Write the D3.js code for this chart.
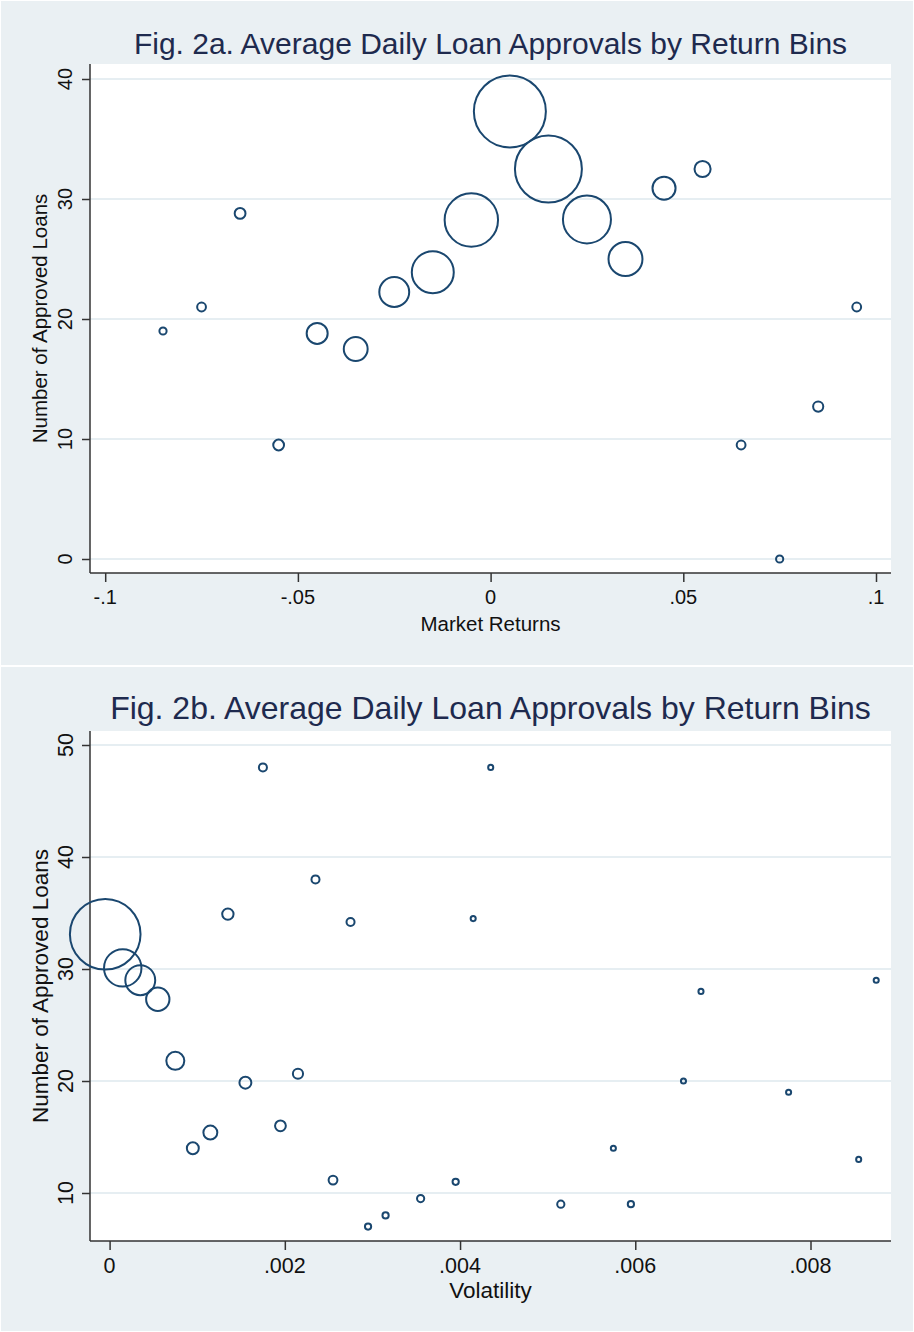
<!DOCTYPE html>
<html lang="en">
<head>
    <meta charset="UTF-8">
    <title>Average Daily Loan Approvals by Return Bins</title>
    <script src="https://d3js.org/d3.v7.min.js"></script>
    <style>
        body { margin: 0; background: #ffffff; }
        svg { display: block; font-family: "Liberation Sans", Arial, Helvetica, sans-serif; }
        .tick-label { fill: #111; }
        .axis-title { fill: #111; }
        .chart-title { fill: #1e2a4e; }
    </style>
</head>
<body>
<div id="chart"></div>
<script>
    // Fig. 2a: market return bins, avg approved loans, number of days in bin (bubble weight)
    const returnBins = [-0.085, -0.075, -0.065, -0.055, -0.045, -0.035, -0.025, -0.015, -0.005,
                        0.005, 0.015, 0.025, 0.035, 0.045, 0.055, 0.065, 0.075, 0.085, 0.095];
    const returnLoans = [19.0, 21.0, 28.8, 9.5, 18.8, 17.5, 22.25, 23.9, 28.25,
                         37.3, 32.5, 28.3, 25.0, 30.9, 32.5, 9.5, 0.0, 12.7, 21.0];
    const returnDays = [4, 6, 9, 9, 34, 44, 69, 136, 220,
                        400, 346, 178, 89, 41, 20, 6, 4, 8, 6];
    const returnTicksX = [-0.1, -0.05, 0, 0.05, 0.1];
    const returnTicksY = [0, 10, 20, 30, 40];

    // Fig. 2b: volatility bins
    const volBins = [-0.00005, 0.00015, 0.00035, 0.00055, 0.00075, 0.00095, 0.00115, 0.00135, 0.00155,
                     0.00175, 0.00195, 0.00215, 0.00235, 0.00255, 0.00275, 0.00295, 0.00315, 0.00355,
                     0.00395, 0.00415, 0.00435, 0.00515, 0.00575, 0.00595, 0.00655, 0.00675, 0.00775,
                     0.00855, 0.00875];
    const volLoans = [33.1, 30.1, 29.0, 27.3, 21.8, 14.0, 15.4, 34.9, 19.85,
                      48.0, 16.0, 20.65, 38.0, 11.15, 34.2, 7.0, 8.0, 9.5,
                      11.0, 34.5, 48.0, 9.0, 14.0, 9.0, 20.0, 28.0, 19.0,
                      13.0, 29.0];
    const volDays = [385, 108, 69, 42, 25, 11, 15, 10, 11,
                     5, 9, 8, 5, 6, 5, 3, 3, 4,
                     3, 2, 2, 4, 2, 3, 2, 2, 2,
                     2, 2];
    const volTicksX = [0, 0.002, 0.004, 0.006, 0.008];
    const volTicksY = [10, 20, 30, 40, 50];

    const W = 914, H = 1332;
    const bg = "#eaf0f3", navy = "#1a476f";

    const svg = d3.select("#chart").append("svg")
        .attr("width", W).attr("height", H);
    svg.append("rect").attr("width", W).attr("height", H).attr("fill", "#fff");

    // format like Stata: ".05", "-.1", "0"
    function stataFmt(v) {
        if (v === 0) return "0";
        let s = String(+v.toFixed(6));
        return s.replace(/^(-?)0\./, "$1.");
    }

    function drawPanel(cfg) {
        const g = svg.append("g");
        g.append("rect")
            .attr("x", 1).attr("y", cfg.top)
            .attr("width", W - 2).attr("height", cfg.bottom - cfg.top)
            .attr("fill", bg);

        const p = cfg.plot;
        g.append("rect")
            .attr("x", p.left).attr("y", p.top)
            .attr("width", p.right - p.left).attr("height", p.bottom - p.top)
            .attr("fill", "#fff");

        const x = d3.scaleLinear().domain(cfg.xDom).range(cfg.xRange);
        const y = d3.scaleLinear().domain(cfg.yDom).range(cfg.yRange);
        const r = d3.scaleSqrt().domain([0, 1]).range([0, 1.8]);

        // gridlines
        g.selectAll(".grid").data(cfg.yTicks).join("line")
            .attr("x1", p.left).attr("x2", p.right)
            .attr("y1", d => y(d)).attr("y2", d => y(d))
            .attr("stroke", "#e6eef2").attr("stroke-width", 2);

        // y axis
        const yAxis = g.append("g")
            .attr("transform", `translate(${p.left},0)`)
            .call(d3.axisLeft(y).tickValues(cfg.yTicks).tickSize(8).tickFormat(""));
        yAxis.select(".domain").attr("d", `M0,${p.top}V${p.bottom}`).attr("stroke", "#333").attr("stroke-width", 1.5);
        yAxis.selectAll(".tick line").attr("stroke", "#333").attr("stroke-width", 1.5);

        g.selectAll(".ytl").data(cfg.yTicks).join("text")
            .attr("class", "tick-label")
            .attr("transform", d => `translate(${cfg.yLabelX},${y(d)}) rotate(-90)`)
            .attr("text-anchor", "middle")
            .style("font-size", cfg.tickSize + "px")
            .text(stataFmt);

        // x axis
        const xAxis = g.append("g")
            .attr("transform", `translate(0,${p.bottom})`)
            .call(d3.axisBottom(x).tickValues(cfg.xTicks).tickSize(9).tickFormat(""));
        xAxis.select(".domain").attr("d", `M${p.left},0H${p.right}`).attr("stroke", "#333").attr("stroke-width", 1.5);
        xAxis.selectAll(".tick line").attr("stroke", "#333").attr("stroke-width", 1.5);

        g.selectAll(".xtl").data(cfg.xTicks).join("text")
            .attr("class", "tick-label")
            .attr("x", d => x(d)).attr("y", cfg.xLabelY)
            .attr("text-anchor", "middle")
            .style("font-size", cfg.tickSize + "px")
            .text(stataFmt);

        // axis titles
        g.append("text")
            .attr("class", "axis-title")
            .attr("x", (p.left + p.right) / 2).attr("y", cfg.xTitleY)
            .attr("text-anchor", "middle")
            .style("font-size", cfg.axisTitleSize + "px")
            .text(cfg.xTitle);

        g.append("text")
            .attr("class", "axis-title")
            .attr("transform", `translate(${cfg.yTitleX},${(p.top + p.bottom) / 2}) rotate(-90)`)
            .attr("text-anchor", "middle")
            .style("font-size", cfg.axisTitleSize + "px")
            .text(cfg.yTitle);

        // chart title
        g.append("text")
            .attr("class", "chart-title")
            .attr("x", (p.left + p.right) / 2).attr("y", cfg.titleY)
            .attr("text-anchor", "middle")
            .style("font-size", cfg.titleSize + "px")
            .text(cfg.title);

        // bubbles
        const pts = cfg.xs.map((v, i) => ({ x: v, y: cfg.ys[i], w: cfg.ws[i] }));
        g.selectAll(".bubble").data(pts).join("circle")
            .attr("class", "bubble")
            .attr("cx", d => x(d.x))
            .attr("cy", d => y(d.y))
            .attr("r", d => r(d.w))
            .attr("fill", "none")
            .attr("stroke", navy)
            .attr("stroke-width", 2);
    }

    drawPanel({
        top: 1, bottom: 665,
        plot: { left: 90, right: 891, top: 64, bottom: 573 },
        xDom: [-0.1, 0.1], xRange: [105.2, 876],
        yDom: [0, 40], yRange: [559, 79],
        xTicks: returnTicksX, yTicks: returnTicksY,
        xs: returnBins, ys: returnLoans, ws: returnDays,
        title: "Fig. 2a. Average Daily Loan Approvals by Return Bins",
        xTitle: "Market Returns", yTitle: "Number of Approved Loans",
        titleY: 54, titleSize: 30,
        xLabelY: 604, xTitleY: 631, yLabelX: 72, yTitleX: 47,
        tickSize: 20, axisTitleSize: 20.5
    });

    drawPanel({
        top: 667, bottom: 1331,
        plot: { left: 90, right: 891, top: 731, bottom: 1241 },
        xDom: [0, 0.008], xRange: [109.6, 810.5],
        yDom: [10, 50], yRange: [1193, 745],
        xTicks: volTicksX, yTicks: volTicksY,
        xs: volBins, ys: volLoans, ws: volDays,
        title: "Fig. 2b. Average Daily Loan Approvals by Return Bins",
        xTitle: "Volatility", yTitle: "Number of Approved Loans",
        titleY: 719, titleSize: 32,
        xLabelY: 1273, xTitleY: 1298, yLabelX: 73, yTitleX: 48,
        tickSize: 21.5, axisTitleSize: 22.5
    });
</script>
</body>
</html>
